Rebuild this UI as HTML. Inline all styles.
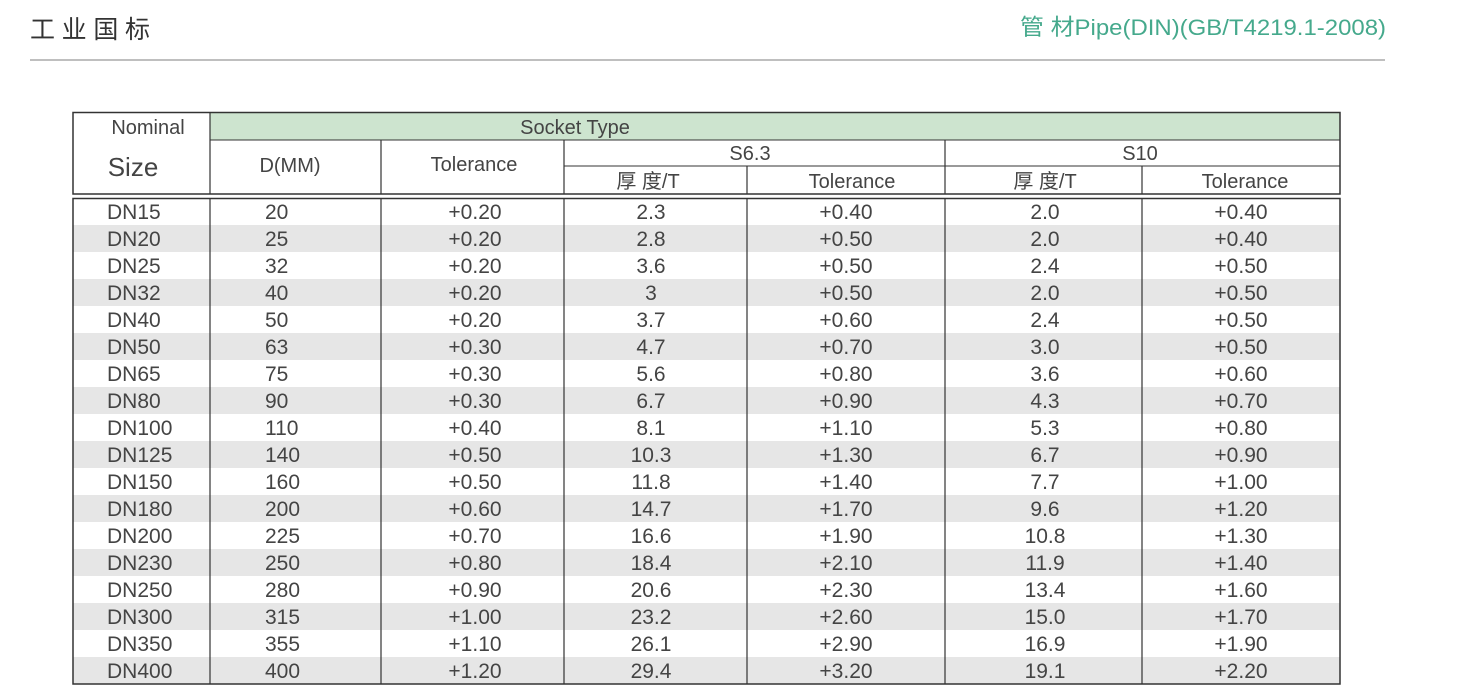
<!DOCTYPE html>
<html><head><meta charset="utf-8"><style>
html,body{margin:0;padding:0;background:#fff;}
svg{display:block;}
text{font-family:"Liberation Sans","Noto Sans CJK SC",sans-serif;fill:#444;}
</style></head><body>
<svg width="1460" height="692" viewBox="0 0 1460 692" xmlns="http://www.w3.org/2000/svg">
<text x="30" y="38" font-size="25" textLength="120" lengthAdjust="spacing" style="fill:#333">工业国标</text>
<text x="1020" y="35" font-size="22.5" textLength="366" lengthAdjust="spacingAndGlyphs" style="fill:#45a98c">管 材Pipe(DIN)(GB/T4219.1-2008)</text>
<line x1="30" y1="60" x2="1385" y2="60" stroke="#aaa" stroke-width="1.5"/>
<rect x="210" y="113" width="1130" height="27" fill="#cde4cf"/>
<rect x="73" y="112.5" width="1267" height="81.5" fill="none" stroke="#333" stroke-width="1.5"/>
<line x1="210" y1="112" x2="210" y2="194" stroke="#333" stroke-width="1.2"/>
<line x1="210" y1="140" x2="1340" y2="140" stroke="#333" stroke-width="1"/>
<line x1="564" y1="166" x2="1340" y2="166" stroke="#333" stroke-width="1"/>
<line x1="381" y1="140" x2="381" y2="194" stroke="#333" stroke-width="1.2"/>
<line x1="564" y1="140" x2="564" y2="194" stroke="#333" stroke-width="1.2"/>
<line x1="945" y1="140" x2="945" y2="194" stroke="#333" stroke-width="1.2"/>
<line x1="747" y1="166" x2="747" y2="194" stroke="#333" stroke-width="1.2"/>
<line x1="1142" y1="166" x2="1142" y2="194" stroke="#333" stroke-width="1.2"/>
<g font-size="20">
<text x="148" y="134" text-anchor="middle">Nominal</text>
<text x="133" y="176" text-anchor="middle" font-size="26">Size</text>
<text x="575" y="134" text-anchor="middle">Socket Type</text>
<text x="290" y="172" text-anchor="middle">D(MM)</text>
<text x="474" y="171" text-anchor="middle">Tolerance</text>
<text x="750" y="160" text-anchor="middle">S6.3</text>
<text x="1140" y="160" text-anchor="middle">S10</text>
<text x="648" y="188" text-anchor="middle">厚 度/T</text>
<text x="852" y="188" text-anchor="middle">Tolerance</text>
<text x="1045" y="188" text-anchor="middle">厚 度/T</text>
<text x="1245" y="188" text-anchor="middle">Tolerance</text>
</g>
<g id="rows"></g>
<rect x="73" y="198.5" width="1267" height="485.5" fill="none" stroke="#333" stroke-width="1.5"/>
<g stroke="#333" stroke-width="1.2">
<line x1="210" y1="198" x2="210" y2="684"/><line x1="381" y1="198" x2="381" y2="684"/>
<line x1="564" y1="198" x2="564" y2="684"/><line x1="747" y1="198" x2="747" y2="684"/>
<line x1="945" y1="198" x2="945" y2="684"/><line x1="1142" y1="198" x2="1142" y2="684"/>
</g>
</svg>
<script>
var d=[["DN15","20","+0.20","2.3","+0.40","2.0","+0.40"],["DN20","25","+0.20","2.8","+0.50","2.0","+0.40"],["DN25","32","+0.20","3.6","+0.50","2.4","+0.50"],["DN32","40","+0.20","3","+0.50","2.0","+0.50"],["DN40","50","+0.20","3.7","+0.60","2.4","+0.50"],["DN50","63","+0.30","4.7","+0.70","3.0","+0.50"],["DN65","75","+0.30","5.6","+0.80","3.6","+0.60"],["DN80","90","+0.30","6.7","+0.90","4.3","+0.70"],["DN100","110","+0.40","8.1","+1.10","5.3","+0.80"],["DN125","140","+0.50","10.3","+1.30","6.7","+0.90"],["DN150","160","+0.50","11.8","+1.40","7.7","+1.00"],["DN180","200","+0.60","14.7","+1.70","9.6","+1.20"],["DN200","225","+0.70","16.6","+1.90","10.8","+1.30"],["DN230","250","+0.80","18.4","+2.10","11.9","+1.40"],["DN250","280","+0.90","20.6","+2.30","13.4","+1.60"],["DN300","315","+1.00","23.2","+2.60","15.0","+1.70"],["DN350","355","+1.10","26.1","+2.90","16.9","+1.90"],["DN400","400","+1.20","29.4","+3.20","19.1","+2.20"]];
var xs=[[107,"start"],[265,"start"],[475,"middle"],[651,"middle"],[846,"middle"],[1045,"middle"],[1241,"middle"]];
var g=document.getElementById("rows"),ns="http://www.w3.org/2000/svg";
d.forEach(function(r,i){var y=198+27*i;
if(i%2==1){var b=document.createElementNS(ns,"rect");b.setAttribute("x",73);b.setAttribute("y",y);b.setAttribute("width",1267);b.setAttribute("height",27);b.setAttribute("fill","#e6e6e6");g.appendChild(b);}
r.forEach(function(v,j){var t=document.createElementNS(ns,"text");t.setAttribute("x",xs[j][0]);t.setAttribute("y",y+21);t.setAttribute("text-anchor",xs[j][1]);t.setAttribute("font-size","21");t.textContent=v;g.appendChild(t);});});
</script>
</body></html>
